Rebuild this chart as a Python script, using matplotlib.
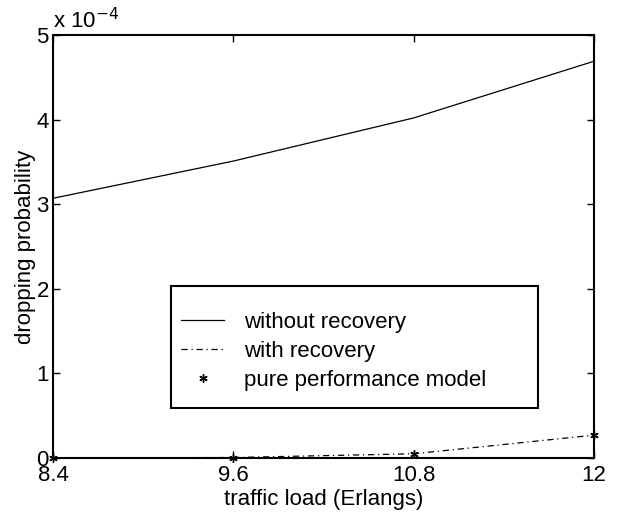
import matplotlib
matplotlib.use("Agg")
from matplotlib import pyplot as plt
from matplotlib.ticker import FuncFormatter
from matplotlib.patches import Rectangle

plt.rcParams['font.family'] = ['Liberation Sans', 'DejaVu Sans']

load = [8.4, 9.6, 10.8, 12.0]
without_recovery = [3.07e-4, 3.51e-4, 4.02e-4, 4.69e-4]
with_recovery = [0.0, 0.006e-4, 0.05e-4, 0.27e-4]
pure_model = [0.0, 0.006e-4, 0.05e-4, 0.27e-4]

fs = 16
fig = plt.figure(figsize=(6.19, 5.18), dpi=100)
ax = fig.add_axes([0.0856, 0.1158, 0.874, 0.8166])

ax.plot(load, without_recovery, 'k-', linewidth=0.9, label='without recovery')
ax.plot(load, with_recovery, color='k', linewidth=0.9, dashes=[5, 3, 1, 3], label='with recovery')
ax.plot(load, pure_model, color='k', marker=(6, 2, 0), markersize=6, markeredgewidth=1,
        linestyle='none', clip_on=False, label='pure performance model')

ax.set_xlim(8.4, 12)
ax.set_ylim(0, 5e-4)
ax.set_xticks(load)
ax.set_xticklabels(['8.4', '9.6', '10.8', '12'])
ax.set_yticks([i * 1e-4 for i in range(6)])
ax.yaxis.set_major_formatter(FuncFormatter(lambda v, p: '%g' % round(v / 1e-4, 6)))

ax.tick_params(direction='in', top=True, right=True, labelsize=fs, length=5, width=1)
ax.tick_params(axis='x', pad=5)
ax.tick_params(axis='y', pad=3)
for s in ax.spines.values():
    s.set_linewidth(1.5)

ax.text(0.0, 1.005, r'x 10$^{-4}$', transform=ax.transAxes, fontsize=fs, va='bottom', ha='left')

ax.set_xlabel('traffic load (Erlangs)', fontsize=fs, labelpad=2)
ax.set_ylabel('dropping probability', fontsize=fs, labelpad=0)

# legend box drawn by hand, entries placed inside it
x0, x1, y0, y1 = 0.218, 0.8965, 0.118, 0.4066
ax.add_patch(Rectangle((x0, y0), x1 - x0, y1 - y0, transform=ax.transAxes,
                       fill=True, facecolor='white', edgecolor='k', linewidth=1.5, zorder=4))
leg = ax.legend(loc='center left', bbox_to_anchor=(x0, (y0 + y1) / 2 - 0.01), fontsize=fs,
                frameon=False, handlelength=1.95, handletextpad=0.9, borderpad=0.45,
                labelspacing=0.36, borderaxespad=0)
leg.set_zorder(5)

fig.savefig('out.png', dpi=100)
